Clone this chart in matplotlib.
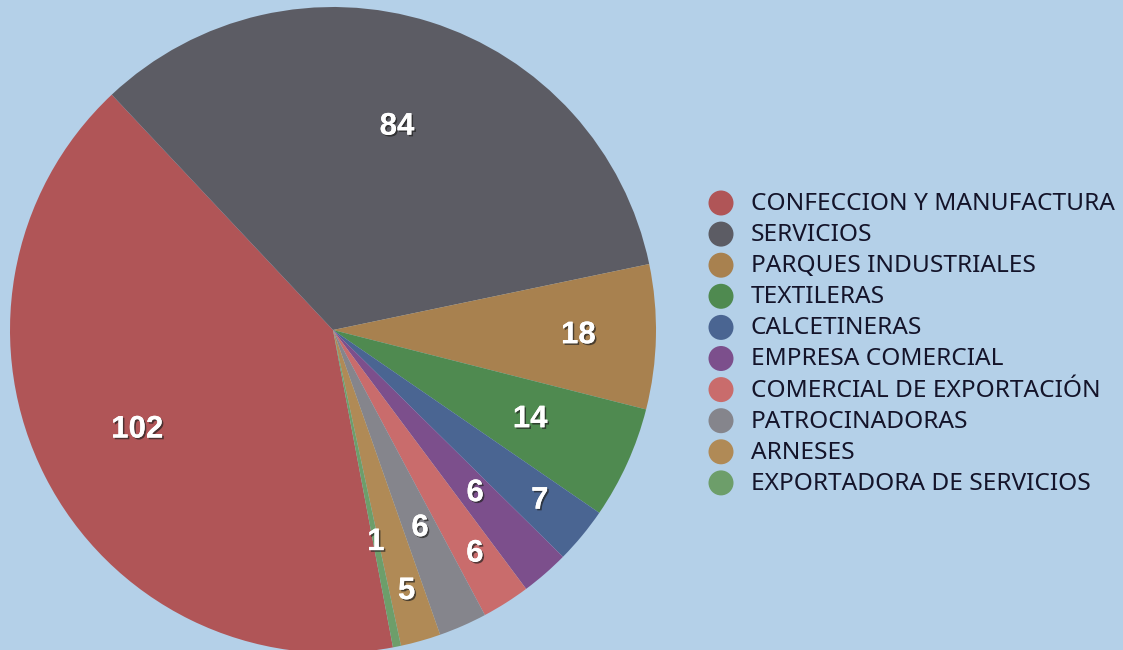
import matplotlib
matplotlib.use("Agg")
import matplotlib.pyplot as plt
import matplotlib.patheffects as pe
from matplotlib.patches import Ellipse
import numpy as np

categories = ["CONFECCION Y MANUFACTURA", "SERVICIOS", "PARQUES INDUSTRIALES",
              "TEXTILERAS", "CALCETINERAS", "EMPRESA COMERCIAL",
              "COMERCIAL DE EXPORTACIÓN", "PATROCINADORAS", "ARNESES",
              "EXPORTADORA DE SERVICIOS"]
values = [102, 84, 18, 14, 7, 6, 6, 6, 5, 1]
colors = ["#b05557", "#5c5c64", "#a8814f", "#4f8a50", "#4a6592", "#7c4f8c",
          "#c96c6c", "#85858c", "#b08a56", "#6d9e6a"]
label_radius = [0.68, 0.66, 0.76, 0.67, 0.83, 0.67, 0.82, 0.67, 0.84, 0.67]

bg = "#b4d0e8"
W, H = 1123, 650
fig = plt.figure(figsize=(W / 100, H / 100), dpi=100, facecolor=bg)

cx, cy, R = 333, 330, 323
ax = fig.add_axes([(cx - R) / W, (H - cy - R) / H, 2 * R / W, 2 * R / H])
ax.set_facecolor(bg)
ax.axis("off")

wedges, _ = ax.pie(values, colors=colors, startangle=-79.3, counterclock=False,
                   radius=1.0, wedgeprops=dict(linewidth=0))
ax.set_xlim(-1, 1)
ax.set_ylim(-1, 1)
ax.set_aspect("equal")

for w, v, r in zip(wedges, values, label_radius):
    ang = np.deg2rad((w.theta1 + w.theta2) / 2)
    ax.text(r * np.cos(ang), r * np.sin(ang), str(v), ha="center", va="center",
            fontsize=22.5, fontweight="bold", color="white", family="Liberation Sans",
            path_effects=[pe.withSimplePatchShadow(offset=(1.2, -1.2), shadow_rgbFace="#222222", alpha=0.7),
                          pe.Normal()])

# legend
y0, dy = 203, 31.1
for i, (cat, col) in enumerate(zip(categories, colors)):
    y = y0 + i * dy
    fig.patches.append(Ellipse((721 / W, 1 - y / H), width=25 / W, height=25 / H,
                               transform=fig.transFigure, facecolor=col,
                               edgecolor="none"))
    fig.text(751 / W, 1 - (y + 1) / H, cat, ha="left", va="center",
             fontsize=17.6, color="#14142a", family="Noto Sans", fontweight="medium")

fig.savefig("out.png", dpi=100, facecolor=bg)
